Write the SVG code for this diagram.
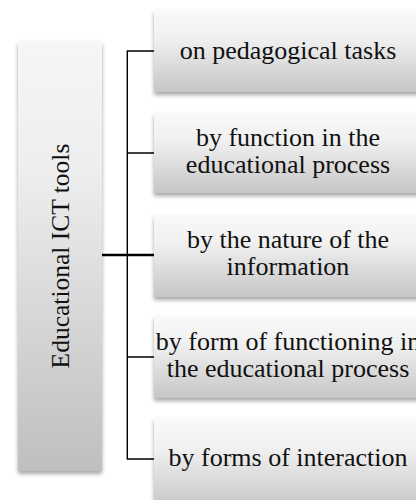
<svg xmlns="http://www.w3.org/2000/svg" width="416" height="500" viewBox="0 0 416 500">
<defs>
<linearGradient id="gBox" x1="0" y1="0" x2="0" y2="1">
<stop offset="0" stop-color="#f9f9f9"/>
<stop offset="0.35" stop-color="#f0f0f0"/>
<stop offset="1" stop-color="#c6c6c6"/>
</linearGradient>
<linearGradient id="gLeft" x1="0" y1="0" x2="0" y2="1">
<stop offset="0" stop-color="#f6f6f6"/>
<stop offset="0.3" stop-color="#eeeeee"/>
<stop offset="1" stop-color="#bfbfbf"/>
</linearGradient>
<filter id="sh" x="-10%" y="-10%" width="120%" height="130%">
<feGaussianBlur in="SourceAlpha" stdDeviation="2"/>
<feOffset dx="0" dy="3" result="b"/>
<feComponentTransfer><feFuncA type="linear" slope="0.35"/></feComponentTransfer>
<feMerge><feMergeNode/><feMergeNode in="SourceGraphic"/></feMerge>
</filter>
</defs>
<style>
.box{fill:url(#gBox);filter:url(#sh);}
.lbox{fill:url(#gLeft);filter:url(#sh);}
text{font-family:'Liberation Serif','DejaVu Serif',serif;font-size:26px;fill:#111;text-anchor:middle;}
.c{stroke:#000;stroke-width:1.4;fill:none;}
</style>
<g id="connectors">
<path class="c" d="M154,51 H127.3 V459 H154"/>
<path class="c" d="M127.3,153 H154 M127.3,357 H154"/>
<path stroke="#000" stroke-width="2.6" fill="none" d="M102,255 H154"/>
</g>
<g id="root">
<rect class="lbox" x="18" y="41" width="84" height="430"/>
<text font-family="Liberation Serif, serif" transform="translate(69,256) rotate(-90)" style="font-size:25.5px">Educational ICT tools</text>
</g>
<g id="n1">
<rect class="box" x="154" y="10" width="270" height="82"/>
<text font-family="Liberation Serif, serif" x="288" y="59">on pedagogical tasks</text>
</g>
<g id="n2">
<rect class="box" x="154" y="113" width="270" height="80"/>
<text font-family="Liberation Serif, serif" x="288" y="146">by function in the</text>
<text font-family="Liberation Serif, serif" x="288" y="173">educational process</text>
</g>
<g id="n3">
<rect class="box" x="154" y="215" width="270" height="82"/>
<text font-family="Liberation Serif, serif" x="288" y="248">by the nature of the</text>
<text font-family="Liberation Serif, serif" x="288" y="275">information</text>
</g>
<g id="n4">
<rect class="box" x="154" y="316" width="270" height="82"/>
<text font-family="Liberation Serif, serif" x="288" y="350">by form of functioning in</text>
<text font-family="Liberation Serif, serif" x="288" y="377">the educational process</text>
</g>
<g id="n5">
<rect class="box" x="154" y="418" width="270" height="90"/>
<text font-family="Liberation Serif, serif" x="288" y="466">by forms of interaction</text>
</g>
</svg>
